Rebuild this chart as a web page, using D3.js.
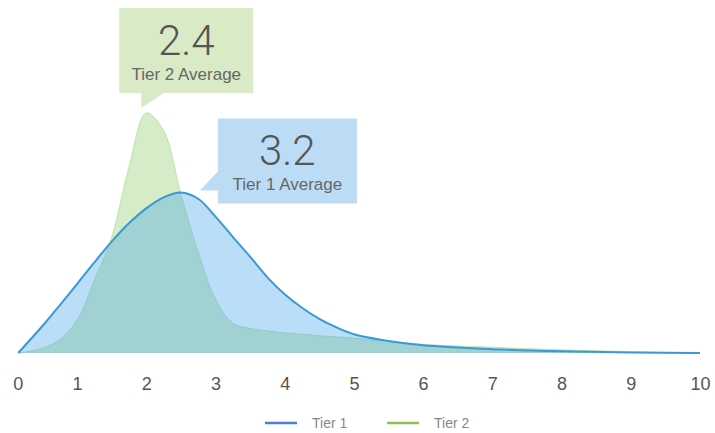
<!DOCTYPE html>
<html>
<head>
<meta charset="utf-8">
<script src="https://cdn.jsdelivr.net/npm/d3@7"></script>
<style>
  html, body { margin: 0; padding: 0; background: #fff; }
  svg { display: block; font-family: "Liberation Sans", Arial, Helvetica, sans-serif; }
</style>
</head>
<body>
<svg id="chart" width="715" height="433"></svg>
<script>
// Score grid shared by both distributions
const scores = [0.15, 0.5, 0.75, 1, 1.25, 1.5, 1.75, 2, 2.25, 2.5, 2.75, 3, 3.25, 3.5, 3.75, 4, 4.25, 4.5, 4.75, 5, 5.5, 6, 7, 8, 9, 10];
// Relative frequency (%) at each score
const tier1 = [0, 5.6, 9.9, 14.3, 18.8, 23.1, 26.9, 30.0, 32.3, 33.3, 32.0, 28.3, 24.1, 20.0, 15.7, 12.2, 9.4, 7.1, 5.3, 3.9, 2.5, 1.6, 0.8, 0.35, 0.12, 0];
const tier2 = [0, 1.0, 2.8, 6.8, 15.1, 24.0, 38.6, 49.8, 46.2, 33.0, 21.0, 11.2, 6.2, 5.1, 4.6, 4.2, 3.9, 3.6, 3.35, 3.1, 2.4, 1.8, 1.2, 0.65, 0.3, 0];
const xTicks = [0, 1, 2, 3, 4, 5, 6, 7, 8, 9, 10];
const seriesNames = ["Tier 1", "Tier 2"];
const averageValues = [3.2, 2.4];

const svg = d3.select("#chart");

const x = d3.scaleLinear().domain([0, 10]).range([7.8, 700]);
const y = d3.scaleLinear().domain([0, 50]).range([353, 112]);

const toPoints = vals => scores.map((s, i) => ({ s, v: vals[i] }));
const curve = d3.curveCatmullRom.alpha(0.5);

const area = d3.area()
  .x(d => x(d.s))
  .y0(y(0))
  .y1(d => y(d.v))
  .curve(curve);

const line = d3.line()
  .x(d => x(d.s))
  .y(d => y(d.v))
  .curve(curve);

// Tier 2 underneath, Tier 1 layered on top
svg.append("path")
  .datum(toPoints(tier2))
  .attr("d", area)
  .attr("fill", "rgb(140,200,100)")
  .attr("fill-opacity", 0.36);

svg.append("path")
  .datum(toPoints(tier2))
  .attr("d", line)
  .attr("fill", "none")
  .attr("stroke", "rgb(170,215,140)")
  .attr("stroke-width", 1)
  .attr("stroke-opacity", 0.6);

svg.append("path")
  .datum(toPoints(tier1))
  .attr("d", area)
  .attr("fill", "rgb(60,160,235)")
  .attr("fill-opacity", 0.35);

svg.append("path")
  .datum(toPoints(tier1))
  .attr("d", line)
  .attr("fill", "none")
  .attr("stroke", "#3a98d8")
  .attr("stroke-width", 2);

// X axis labels only
const axis = svg.append("g")
  .attr("transform", `translate(0,${y(0)})`)
  .call(d3.axisBottom(x).tickValues(xTicks).tickSize(0).tickPadding(24).tickFormat(d3.format("d")));
axis.select(".domain").remove();
axis.selectAll("text")
  .attr("font-family", "\"Liberation Sans\", Arial, sans-serif")
  .attr("font-size", 18)
  .attr("fill", "#555");
// keep the first label clear of the left edge
axis.selectAll(".tick").filter(d => d === 0).select("text").attr("dx", 10);

// Callouts pointing at each distribution's peak
function peakOf(vals) {
  const i = d3.maxIndex(vals);
  return { px: x(scores[i]), py: y(vals[i]) };
}

const boxH = 85;

const boxW2 = 134;
const p2 = peakOf(tier2);
const tip2 = { x: p2.px - 5, y: p2.py - 5 };
const b2 = { x: tip2.x - 22, y: tip2.y - 15 - boxH, w: boxW2 };
const g2 = svg.append("g");
g2.append("rect")
  .attr("x", b2.x).attr("y", b2.y).attr("width", b2.w).attr("height", boxH)
  .attr("fill", "#d8ebc6");
g2.append("path")
  .attr("d", `M${tip2.x},${b2.y + boxH - 1} L${tip2.x},${tip2.y} L${tip2.x + 24},${b2.y + boxH - 1} Z`)
  .attr("fill", "#d8ebc6");
g2.append("text")
  .attr("x", b2.x + b2.w / 2).attr("y", b2.y + 47)
  .attr("text-anchor", "middle")
  .attr("font-family", "Roboto, \"Liberation Sans\", sans-serif")
  .attr("font-weight", 300)
  .attr("font-size", 42).attr("fill", "#555")
  .text(averageValues[1].toFixed(1));
g2.append("text")
  .attr("x", b2.x + b2.w / 2).attr("y", b2.y + 72)
  .attr("text-anchor", "middle")
  .attr("font-size", 17).attr("fill", "#666")
  .text(seriesNames[1] + " Average");

const boxW1 = 139;
const p1 = peakOf(tier1);
const tip1 = { x: p1.px + 19, y: p1.py - 2 };
const b1 = { x: tip1.x + 18, y: tip1.y + 13 - boxH, w: boxW1 };
const g1 = svg.append("g");
g1.append("rect")
  .attr("x", b1.x).attr("y", b1.y).attr("width", b1.w).attr("height", boxH)
  .attr("fill", "#bcdcf5");
g1.append("path")
  .attr("d", `M${b1.x + 1},${tip1.y - 20} L${tip1.x},${tip1.y} L${b1.x + 1},${tip1.y} Z`)
  .attr("fill", "#bcdcf5");
g1.append("text")
  .attr("x", b1.x + b1.w / 2).attr("y", b1.y + 47)
  .attr("text-anchor", "middle")
  .attr("font-family", "Roboto, \"Liberation Sans\", sans-serif")
  .attr("font-weight", 300)
  .attr("font-size", 42).attr("fill", "#555")
  .text(averageValues[0].toFixed(1));
g1.append("text")
  .attr("x", b1.x + b1.w / 2).attr("y", b1.y + 72)
  .attr("text-anchor", "middle")
  .attr("font-size", 17).attr("fill", "#666")
  .text(seriesNames[0] + " Average");

// Legend
const legendColors = ["#4a80da", "#8cc252"];
const legend = svg.append("g").attr("transform", "translate(265,423)");
const item = legend.selectAll("g").data(seriesNames).join("g")
  .attr("transform", (d, i) => `translate(${i * 122},0)`);
item.append("line")
  .attr("x1", 0).attr("x2", 32).attr("y1", 0).attr("y2", 0)
  .attr("stroke", (d, i) => legendColors[i]).attr("stroke-width", 2.5);
item.append("text")
  .attr("x", 47).attr("y", 5)
  .attr("font-size", 14).attr("fill", "#888")
  .text(d => d);
</script>
</body>
</html>
